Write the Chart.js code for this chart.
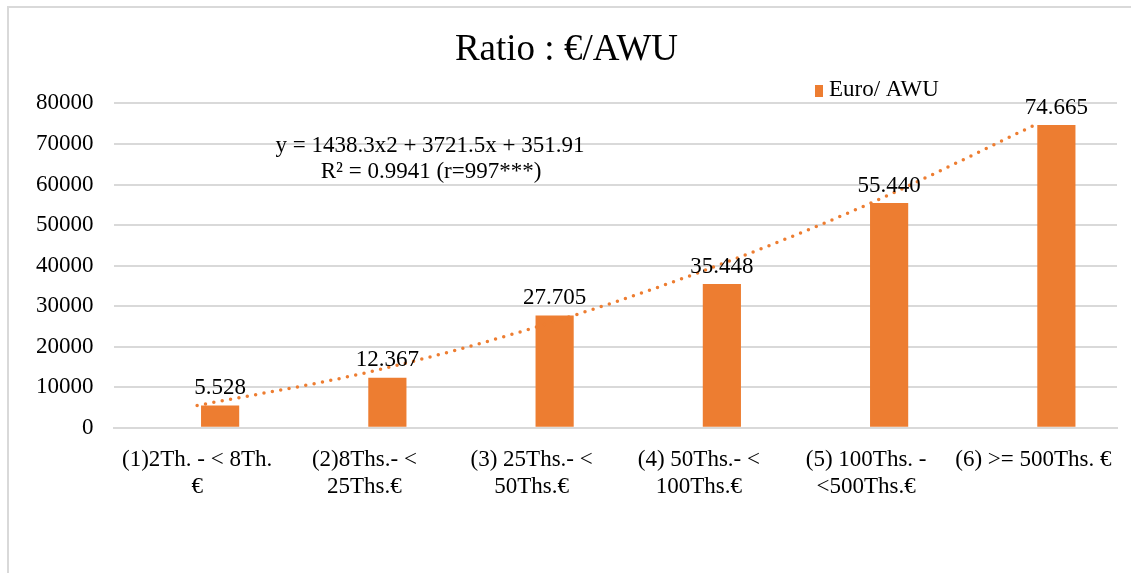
<!DOCTYPE html>
<html>
<head>
<meta charset="utf-8">
<script src="https://cdn.jsdelivr.net/npm/chart.js@4.4.1/dist/chart.umd.min.js"></script>
<style>
  body { margin: 0; background: #fff; }
  #wrap { position: relative; width: 1131px; height: 573px; }
</style>
</head>
<body>
<div id="wrap"><canvas id="my-chart"></canvas></div>
<script>
const categories = [
  ['(1)2Th. - < 8Th.', '€'],
  ['(2)8Ths.- <', '25Ths.€'],
  ['(3) 25Ths.- <', '50Ths.€'],
  ['(4) 50Ths.- <', '100Ths.€'],
  ['(5) 100Ths. -', '<500Ths.€'],
  ['(6) >= 500Ths. €']
];
const euroPerAwu = [5528, 12367, 27705, 35448, 55440, 74665];
// polynomial trendline at each category
const trendValues = [5500, 13500, 24500, 38300, 54900, 74500];
const yTicks = [0, 10000, 20000, 30000, 40000, 50000, 60000, 70000, 80000];
const equationLines = ['y = 1438.3x2 + 3721.5x + 351.91', 'R² = 0.9941 (r=997***)'];
const legendLabel = 'Euro/ AWU';

const orange = '#ED7D31';
const serif = "'Liberation Serif', 'Times New Roman', serif";

const extras = {
  id: 'extras',
  beforeDraw(chart) {
    const ctx = chart.ctx;
    ctx.save();
    ctx.fillStyle = '#fff';
    ctx.fillRect(0, 0, chart.width, chart.height);
    ctx.strokeStyle = '#d9d9d9';
    ctx.lineWidth = 2;
    ctx.strokeRect(8, 7, chart.width + 20, chart.height + 20);
    ctx.restore();
  },
  afterDatasetsDraw(chart) {
    const ctx = chart.ctx;
    ctx.save();
    ctx.font = '23px ' + serif;
    ctx.fillStyle = '#000';
    ctx.textAlign = 'center';
    ctx.textBaseline = 'bottom';
    // value labels above the bars
    const meta = chart.getDatasetMeta(2);
    meta.data.forEach((bar, i) => {
      ctx.fillText(euroPerAwu[i].toLocaleString('de-DE'), bar.x, bar.y - 6);
    });
    // trendline equation
    ctx.textBaseline = 'middle';
    ctx.fillText(equationLines[0], 430, 146);
    ctx.fillText(equationLines[1], 431, 172);
    // legend
    ctx.fillStyle = orange;
    ctx.fillRect(815, 85, 8, 12);
    ctx.fillStyle = '#000';
    ctx.textAlign = 'left';
    ctx.fillText(legendLabel, 829, 90);
    ctx.restore();
  }
};

const ctx = document.getElementById('my-chart').getContext('2d');
const chart = new Chart(ctx, {
  data: {
    labels: categories,
    datasets: [
      {
        type: 'line',
        label: 'Trend',
        data: trendValues,
        borderColor: orange,
        borderWidth: 3.5,
        borderDash: [0, 8.5],
        borderCapStyle: 'round',
        pointRadius: 0,
        cubicInterpolationMode: 'monotone',
        order: 0
      },
      {
        // empty slot, pushes the real bars right of the category centre
        type: 'bar',
        label: '',
        data: [null, null, null, null, null, null],
        backgroundColor: 'rgba(0,0,0,0)',
        categoryPercentage: 0.55,
        barPercentage: 0.83,
        order: 1
      },
      {
        type: 'bar',
        label: legendLabel,
        data: euroPerAwu,
        backgroundColor: orange,
        categoryPercentage: 0.55,
        barPercentage: 0.83,
        order: 2
      }
    ]
  },
  options: {
    responsive: true,
    maintainAspectRatio: false,
    animation: false,
    layout: { padding: { left: 16, right: 14, top: 0, bottom: 62 } },
    plugins: {
      legend: { display: false },
      tooltip: { enabled: false },
      title: {
        display: true,
        text: 'Ratio : €/AWU',
        color: '#000',
        font: { family: serif, size: 37, weight: 'normal' },
        padding: { top: 28, bottom: 31 }
      }
    },
    scales: {
      x: {
        grid: { display: false },
        border: { color: '#d9d9d9', width: 2 },
        ticks: {
          color: '#000',
          font: { family: serif, size: 23 },
          padding: 10,
          maxRotation: 0,
          autoSkip: false
        }
      },
      y: {
        min: 0,
        max: 80000,
        afterBuildTicks(axis) {
          axis.ticks = yTicks.map(v => ({ value: v }));
        },
        grid: { color: '#d9d9d9', lineWidth: 2, drawTicks: false },
        border: { display: false },
        ticks: {
          color: '#000',
          font: { family: serif, size: 23 },
          padding: 20,
          callback: v => String(v)
        }
      }
    }
  },
  plugins: [extras]
});
</script>
</body>
</html>
